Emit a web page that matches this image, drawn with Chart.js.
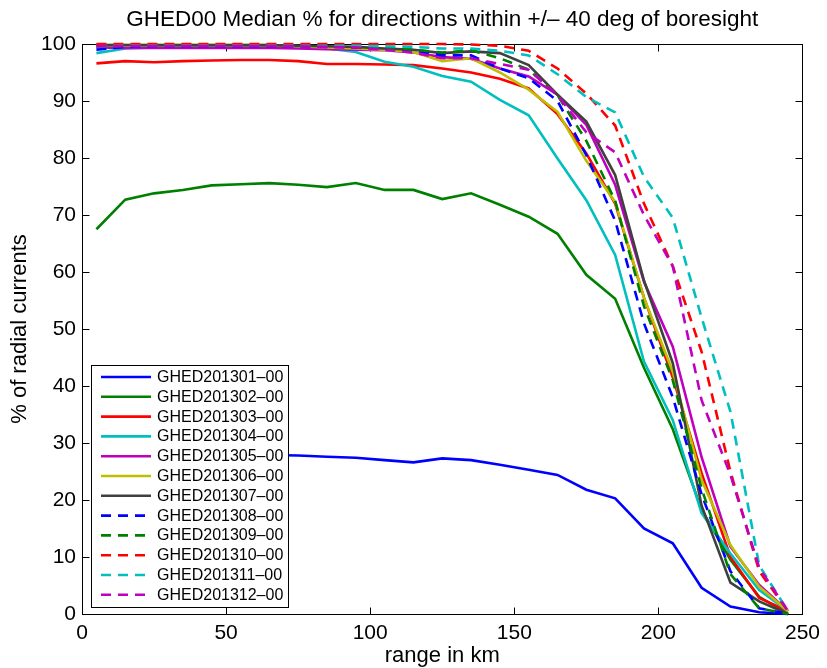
<!DOCTYPE html>
<html>
<head>
<meta charset="utf-8">
<script src="https://cdn.jsdelivr.net/npm/chart.js@4/dist/chart.umd.min.js"></script>
<style>
html,body{margin:0;padding:0;background:#fff;}
#wrap{width:827px;height:668px;}
canvas{display:block;}
</style>
</head>
<body>
<div id="wrap"><canvas id="c" width="827" height="668"></canvas></div>
<script>
// ---- data ----
const rangeKm = [5,15,25,35,45,55,65,75,85,95,105,115,125,135,145,155,165,175,185,195,205,215,225,235,245];

const seriesNames = [
  "GHED201301–00","GHED201302–00","GHED201303–00","GHED201304–00",
  "GHED201305–00","GHED201306–00","GHED201307–00","GHED201308–00",
  "GHED201309–00","GHED201310–00","GHED201311–00","GHED201312–00"
];

const ghed201301 = [27.5,27.8,28.0,28.0,28.1,28.0,27.9,27.8,27.6,27.4,27.0,26.6,27.3,27.0,26.2,25.3,24.4,21.8,20.3,15.0,12.4,4.6,1.3,0.3,0.0];
const ghed201302 = [67.5,72.7,73.8,74.4,75.2,75.4,75.6,75.3,74.9,75.6,74.4,74.4,72.8,73.8,71.8,69.7,66.7,59.5,55.3,43.2,32.4,18.3,9.5,3.0,0.0];
const ghed201303 = [96.6,97.0,96.8,97.0,97.1,97.2,97.2,97.0,96.5,96.5,96.4,96.3,95.7,95.0,93.9,92.2,87.7,80.8,72.0,55.5,41.5,24.7,10.0,2.8,0.5];
const ghed201304 = [98.4,99.2,99.4,99.5,99.5,99.5,99.5,99.4,99.2,98.6,96.9,96.0,94.4,93.4,90.2,87.5,79.9,72.6,63.0,44.3,34.0,17.7,10.6,4.2,0.5];
const ghed201305 = [99.4,99.3,99.3,99.3,99.3,99.3,99.3,99.2,99.1,99.0,98.9,98.5,97.7,97.4,95.7,94.3,91.1,85.8,75.3,58.3,46.9,27.5,11.8,5.1,0.5];
const ghed201306 = [99.8,99.8,99.8,99.8,99.8,99.8,99.8,99.6,99.4,99.2,99.0,98.6,97.0,97.5,95.0,92.0,88.1,79.5,72.3,55.5,42.5,23.5,12.1,4.8,0.5];
const ghed201307 = [99.8,99.8,99.8,99.8,99.8,99.8,99.8,99.7,99.6,99.5,99.2,99.0,98.4,98.7,98.4,96.3,91.1,86.4,77.0,58.5,44.0,19.0,5.5,2.2,0.0];
const ghed201308 = [99.0,99.5,99.6,99.6,99.6,99.6,99.6,99.6,99.5,99.4,99.2,98.9,98.0,98.0,95.7,94.0,90.0,80.5,69.0,51.0,38.0,21.0,7.5,1.0,0.0];
const ghed201309 = [99.6,99.7,99.7,99.7,99.7,99.7,99.7,99.7,99.6,99.5,99.3,99.0,98.5,98.9,97.5,95.5,91.0,83.0,72.5,54.0,41.0,22.0,7.0,1.0,0.0];
const ghed201310 = [100,100,100,100,100,100,100,100,100,100,100,100,100,99.9,99.7,98.8,95.7,91.3,85.7,72.0,61.0,46.0,25.0,7.5,0.5];
const ghed201311 = [99.6,99.7,99.7,99.7,99.7,99.7,99.7,99.7,99.7,99.7,99.6,99.5,99.2,99.2,98.8,98.0,94.7,90.7,88.0,76.7,69.5,52.0,35.5,8.5,0.5];
const ghed201312 = [99.6,99.6,99.6,99.6,99.6,99.6,99.6,99.6,99.5,99.4,99.0,98.5,97.5,97.5,96.5,95.5,91.0,84.5,81.0,70.0,61.0,37.5,24.4,8.1,0.5];

const xTicks = [0,50,100,150,200,250];
const yTicks = [0,10,20,30,40,50,60,70,80,90,100];

const titleText = "GHED00 Median % for directions within +/– 40 deg of boresight";
const xLabel = "range in km";
const yLabel = "% of radial currents";

// ---- styles ----
const allSeries = [ghed201301,ghed201302,ghed201303,ghed201304,ghed201305,ghed201306,
                   ghed201307,ghed201308,ghed201309,ghed201310,ghed201311,ghed201312];
const colors = ["#0000FF","#008000","#FF0000","#00BFBF","#BF00BF","#BFBF00","#404040",
                "#0000FF","#008000","#FF0000","#00BFBF","#BF00BF"];
const FONT = "'Liberation Sans', Arial, Helvetica, sans-serif";
const LW = 2.6;
const DASH = [10, 7];

const datasets = allSeries.map((vals, i) => ({
  label: seriesNames[i],
  data: vals.map((v, k) => ({x: rangeKm[k], y: v})),
  borderColor: colors[i],
  backgroundColor: colors[i],
  borderWidth: LW,
  borderDash: i >= 7 ? DASH : [],
  pointRadius: 0,
  tension: 0,
  fill: false,
  clip: false,
  order: 12 - i
}));

const framePlugin = {
  id: 'frame',
  beforeDatasetsDraw(chart) {
    const {ctx, chartArea: a, scales: {x, y}} = chart;
    ctx.save();
    ctx.strokeStyle = '#000';
    ctx.lineWidth = 1;
    const L = Math.round(a.left) + 0.5, R = Math.round(a.right) + 0.5;
    const T = Math.round(a.top) + 0.5, B = Math.round(a.bottom) + 0.5;
    ctx.strokeRect(L, T, R - L, B - T);
    const tl = 7;
    ctx.beginPath();
    xTicks.forEach(v => {
      const px = Math.round(x.getPixelForValue(v)) + 0.5;
      ctx.moveTo(px, B); ctx.lineTo(px, B - tl);
      ctx.moveTo(px, T); ctx.lineTo(px, T + tl);
    });
    yTicks.forEach(v => {
      const py = Math.round(y.getPixelForValue(v)) + 0.5;
      ctx.moveTo(L, py); ctx.lineTo(L + tl, py);
      ctx.moveTo(R, py); ctx.lineTo(R - tl, py);
    });
    ctx.stroke();
    ctx.restore();
  }
};

const legendPlugin = {
  id: 'boxLegend',
  afterDatasetsDraw(chart) {
    const {ctx, chartArea: a} = chart;
    const ds = chart.data.datasets;
    const bx = a.left + 9, bw = 197, bh = 242;
    const by = a.bottom - 7 - bh;
    ctx.save();
    ctx.fillStyle = '#fff';
    ctx.fillRect(bx, by, bw, bh);
    ctx.strokeStyle = '#000';
    ctx.lineWidth = 1;
    ctx.strokeRect(Math.round(bx) + 0.5, Math.round(by) + 0.5, bw, bh);
    ctx.font = '16px ' + FONT;
    ctx.textBaseline = 'middle';
    ctx.textAlign = 'left';
    const step = 19.8;
    ds.forEach((d, i) => {
      const cy = by + 12 + i * step;
      ctx.strokeStyle = d.borderColor;
      ctx.lineWidth = d.borderWidth;
      ctx.setLineDash(d.borderDash || []);
      ctx.beginPath();
      ctx.moveTo(bx + 10, cy);
      ctx.lineTo(bx + 60, cy);
      ctx.stroke();
      ctx.setLineDash([]);
      ctx.fillStyle = '#000';
      ctx.fillText(d.label, bx + 66, cy + 0.5);
    });
    ctx.restore();
  }
};

new Chart(document.getElementById('c'), {
  type: 'line',
  data: { datasets },
  options: {
    responsive: false,
    animation: false,
    devicePixelRatio: 1,
    layout: { padding: { left: 0, right: 20, top: 0, bottom: 0 } },
    plugins: {
      legend: { display: false },
      tooltip: { enabled: false },
      title: {
        display: true,
        text: titleText,
        fullSize: false,
        color: '#000',
        font: { family: FONT, size: 22.5, weight: 'normal', lineHeight: 1.2 },
        padding: { top: 6, bottom: 11 }
      }
    },
    scales: {
      x: {
        type: 'linear', min: 0, max: 250,
        afterBuildTicks(s) { s.ticks = xTicks.map(v => ({value: v})); },
        ticks: { color: '#000', font: { family: FONT, size: 21 }, padding: 7, maxRotation: 0, autoSkip: false },
        grid: { display: true, drawOnChartArea: false, drawTicks: false },
        border: { display: false },
        title: { display: true, text: xLabel, color: '#000',
                 font: { family: FONT, size: 22, lineHeight: 1.0 }, padding: { top: 0, bottom: 1 } },
        afterFit(s) { s.height = 54; }
      },
      y: {
        type: 'linear', min: 0, max: 100,
        afterBuildTicks(s) { s.ticks = yTicks.map(v => ({value: v})); },
        ticks: { color: '#000', font: { family: FONT, size: 21 }, padding: 6, autoSkip: false },
        grid: { display: true, drawOnChartArea: false, drawTicks: false },
        border: { display: false },
        title: { display: true, text: yLabel, color: '#000',
                 font: { family: FONT, size: 22, lineHeight: 1.2 }, padding: { top: 7, bottom: 0 } },
        afterFit(s) { s.width = 82; }
      }
    }
  },
  plugins: [framePlugin, legendPlugin]
});
</script>
</body>
</html>
